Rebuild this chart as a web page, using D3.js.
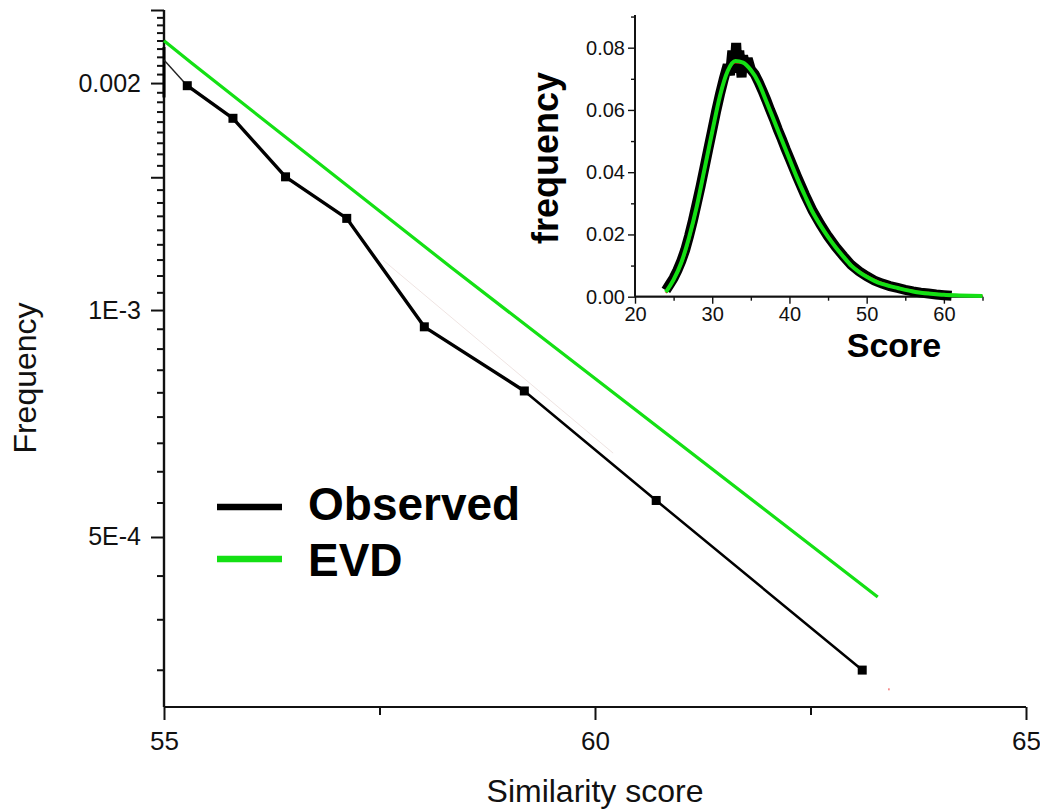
<!DOCTYPE html>
<html>
<head>
<meta charset="utf-8">
<script src="https://cdn.jsdelivr.net/npm/d3@7/dist/d3.min.js"></script>
<style>
  html, body { margin: 0; padding: 0; background: #fff; }
  svg { display: block; font-family: "Liberation Sans", Arial, sans-serif; }
</style>
</head>
<body>
<svg id="chart" width="1040" height="812"></svg>
<script>
// ---- Tail of the score distribution (log scale) ----
const obsScores = [55.27, 55.80, 56.41, 57.12, 58.02, 59.18, 60.71, 63.10];
const obsFreq   = [0.001984, 0.001796, 0.001502, 0.001323, 0.000950, 0.000781, 0.000559, 0.000333];
// unmarked lead-in of the observed curve at the left edge
const leadScores = [55.0, 55.27];
const leadFreq   = [0.002146, 0.001984];
const edgeScores = [55.0, 55.0];
const edgeFreq   = [0.002233, 0.001914];

const evdScores = [55.0, 55.32, 58.34, 63.28];
const evdFreq   = [0.002276, 0.002126, 0.001137, 0.0004164];

// faint helper line and stray mark
const guideScores = [57.54, 60.21];
const guideFreq   = [0.001165, 0.000646];
const strayScore = 63.41, strayFreq = 0.000314;

const xTicksMain = [55, 60, 65];
const xMinorMain = [57.5, 62.5];
const yMajorMain = [0.0005, 0.001, 0.0015, 0.002, 0.0025];
const yLabelMain = { 0.002: "0.002", 0.001: "1E-3", 0.0005: "5E-4" };

// ---- Inset: full score distribution ----
const histScores = [24, 24.5, 25, 25.5, 26, 26.5, 27, 27.5, 28, 28.5, 29, 29.5, 30, 30.5, 31, 31.5, 32,
  32.3, 32.6, 32.9, 33.1, 33.3, 33.5, 33.8, 34, 34.3, 34.6, 35, 35.5, 36, 36.5, 37, 37.5, 38, 38.5,
  39, 39.5, 40, 41, 42, 43, 44, 45, 46, 47, 48, 49, 50, 51, 52, 53, 54, 55, 56, 57, 58, 59, 60, 61];
const histFreq = [0.0020, 0.0040, 0.0060, 0.0085, 0.0115, 0.0150, 0.0195, 0.0245, 0.0300, 0.0355,
  0.0415, 0.0475, 0.0535, 0.0595, 0.0650, 0.0700, 0.0745, 0.0712, 0.0790, 0.0735, 0.0815, 0.0720,
  0.0790, 0.0705, 0.0775, 0.0730, 0.0765, 0.0730, 0.0715, 0.0690, 0.0662, 0.0632, 0.0600, 0.0570,
  0.0537, 0.0507, 0.0475, 0.0445, 0.0385, 0.0328, 0.0276, 0.0233, 0.0194, 0.0160, 0.0130, 0.0102,
  0.0082, 0.0066, 0.0052, 0.0042, 0.0034, 0.0028, 0.0022, 0.0017, 0.0013, 0.0010, 0.0007, 0.0005, 0.0003];

const fitScores = [24, 25, 26, 27, 28, 29, 30, 31, 32, 33, 34, 35, 36, 37, 38, 39, 40, 41, 42, 43, 44,
  45, 46, 47, 48, 49, 50, 51, 52, 53, 54, 55, 56, 57, 58, 59, 60, 62, 65];
const evdFit = [0.0015, 0.0055, 0.0110, 0.0190, 0.0290, 0.0410, 0.0530, 0.0645, 0.0725, 0.0757,
  0.0752, 0.0728, 0.0688, 0.0628, 0.0566, 0.0504, 0.0442, 0.0381, 0.0325, 0.0272, 0.0230, 0.0192,
  0.0158, 0.0128, 0.0100, 0.0080, 0.0064, 0.0051, 0.0041, 0.0034, 0.0028, 0.0022, 0.0017, 0.0013,
  0.0010, 0.0008, 0.0006, 0.0004, 0.0002];
const gumbelFit = [0.0012, 0.0050, 0.0102, 0.0180, 0.0280, 0.0400, 0.0522, 0.0638, 0.0720, 0.0752,
  0.0750, 0.0728, 0.0690, 0.0632, 0.0570, 0.0508, 0.0446, 0.0386, 0.0330, 0.0277, 0.0235, 0.0197,
  0.0163, 0.0132, 0.0104, 0.0084, 0.0068, 0.0055, 0.0045, 0.0037, 0.0030, 0.0025, 0.0020, 0.0016,
  0.0013, 0.0010, 0.0008, 0.0005, 0.0003];

const xTicksInset = [20, 30, 40, 50, 60];
const xMinorInset = [25, 35, 45, 55, 65];
const yTicksInset = [0, 0.02, 0.04, 0.06, 0.08];
const yMinorInset = [0.01, 0.03, 0.05, 0.07, 0.09];

const GREEN = "#14e014";
const svg = d3.select("#chart");

// ================= main panel =================
const x = d3.scaleLinear().domain([55, 65]).range([164, 1026]);
const y = d3.scaleLog().domain([0.0002975, 0.0025]).range([707, 10]);

// y axis minor ticks: eight between consecutive multiples of 0.0005
const yMinorMain = [];
for (let k = 0; k < yMajorMain.length; k++) {
  const hi = yMajorMain[k];
  for (let j = 1; j <= 8; j++) {
    const v = hi - j * 0.0005 / 9;
    if (v > y.domain()[0]) yMinorMain.push(v);
  }
}

const gx = svg.append("g").attr("transform", "translate(0,707)");
gx.call(d3.axisBottom(x).tickValues(xTicksMain).tickSize(13).tickPadding(12).tickFormat(d3.format("d")));
gx.append("g").call(d3.axisBottom(x).tickValues(xMinorMain).tickSize(8).tickFormat(""));
gx.selectAll(".domain").attr("d", `M${x(55)},0H${x(65)}`);

const gy = svg.append("g").attr("transform", "translate(164,0)");
gy.call(d3.axisLeft(y).tickValues(yMajorMain).tickSize(13).tickPadding(10)
  .tickFormat(d => yLabelMain[d] || ""));
gy.append("g").call(d3.axisLeft(y).tickValues(yMinorMain).tickSize(7).tickFormat(""));
gy.selectAll(".domain").attr("d", `M0,${y(0.0025)}V707`);

[gx, gy].forEach(g => {
  g.selectAll(".domain").attr("stroke", "#111").attr("stroke-width", 2.2);
  g.selectAll(".tick line").attr("stroke", "#111").attr("stroke-width", 2);
  g.selectAll(".tick text").attr("fill", "#111").style("font-size", "26px")
    .style("font-family", "'Liberation Sans', Arial, sans-serif");
});
gy.selectAll(".tick text").style("font-size", "25px");

svg.append("text").attr("x", 595).attr("y", 802).attr("text-anchor", "middle")
  .style("font-size", "32px").attr("fill", "#111").text("Similarity score");
svg.append("text").attr("transform", "translate(36,378) rotate(-90)").attr("text-anchor", "middle")
  .style("font-size", "32px").attr("fill", "#111").text("Frequency");

const lineMain = d3.line().x(d => x(d[0])).y(d => y(d[1]));
const zip = (a, b) => a.map((v, i) => [v, b[i]]);

svg.append("path").attr("d", lineMain(zip(guideScores, guideFreq)))
  .attr("fill", "none").attr("stroke", "#efe4e2").attr("stroke-width", 1);

svg.append("path").attr("d", lineMain(zip(evdScores, evdFreq)))
  .attr("fill", "none").attr("stroke", GREEN).attr("stroke-width", 3.2);

svg.append("path").attr("d", lineMain(zip(edgeScores, edgeFreq)))
  .attr("fill", "none").attr("stroke", "#000").attr("stroke-width", 3);
svg.append("path").attr("d", lineMain(zip(leadScores, leadFreq)))
  .attr("fill", "none").attr("stroke", "#222").attr("stroke-width", 1.4);

const obsPts = zip(obsScores, obsFreq);
svg.append("path").attr("d", lineMain(obsPts.slice(0, 6)))
  .attr("fill", "none").attr("stroke", "#000").attr("stroke-width", 3.4).attr("stroke-linejoin", "round");
svg.append("path").attr("d", lineMain(obsPts.slice(5)))
  .attr("fill", "none").attr("stroke", "#000").attr("stroke-width", 2.5).attr("stroke-linejoin", "round");
svg.append("g").selectAll("rect").data(obsPts).join("rect")
  .attr("x", d => x(d[0]) - 4.5).attr("y", d => y(d[1]) - 4.5)
  .attr("width", 9).attr("height", 9).attr("fill", "#000");

svg.append("line").attr("x1", x(strayScore)).attr("x2", x(strayScore))
  .attr("y1", y(strayFreq) - 1).attr("y2", y(strayFreq) + 1)
  .attr("stroke", "#f03030").attr("stroke-width", 1);

// legend
const legend = [{ name: "Observed", color: "#000", ty: 520, ly: 507 },
                { name: "EVD", color: GREEN, ty: 576, ly: 559 }];
const lg = svg.append("g");
legend.forEach(d => {
  lg.append("line").attr("x1", 217).attr("x2", 282).attr("y1", d.ly).attr("y2", d.ly)
    .attr("stroke", d.color).attr("stroke-width", 6.5);
  lg.append("text").attr("x", 308).attr("y", d.ty).attr("fill", "#000")
    .style("font-size", "46px").style("font-weight", "bold").text(d.name);
});

// ================= inset panel =================
const xi = d3.scaleLinear().domain([20, 65]).range([635, 982.5]);
const yi = d3.scaleLinear().domain([0, 0.0905]).range([296.7, 15]);

const gxi = svg.append("g").attr("transform", "translate(0,296.7)");
gxi.call(d3.axisBottom(xi).tickValues(xTicksInset).tickSize(7).tickPadding(3).tickFormat(d3.format("d")));
gxi.append("g").call(d3.axisBottom(xi).tickValues(xMinorInset).tickSize(4).tickFormat(""));
gxi.selectAll(".domain").attr("d", `M${xi(20)},0H${xi(65)}`);

const gyi = svg.append("g").attr("transform", "translate(635,0)");
gyi.call(d3.axisLeft(yi).tickValues(yTicksInset).tickSize(7).tickPadding(3).tickFormat(d3.format(".2f")));
gyi.append("g").call(d3.axisLeft(yi).tickValues(yMinorInset).tickSize(4).tickFormat(""));
gyi.selectAll(".domain").attr("d", `M0,${yi(0.0905)}V296.7`);

[gxi, gyi].forEach(g => {
  g.selectAll(".domain").attr("stroke", "#111").attr("stroke-width", 1.8);
  g.selectAll(".tick line").attr("stroke", "#111").attr("stroke-width", 1.4);
  g.selectAll(".tick text").attr("fill", "#111").style("font-size", "20px")
    .style("font-family", "'Liberation Sans', Arial, sans-serif");
});

svg.append("text").attr("x", 894).attr("y", 357).attr("text-anchor", "middle")
  .style("font-size", "34px").style("font-weight", "bold").attr("fill", "#000").text("Score");
svg.append("text").attr("transform", "translate(558,158) rotate(-90)").attr("text-anchor", "middle")
  .style("font-size", "36px").style("font-weight", "bold").attr("fill", "#000").text("frequency");

const lineInset = d3.line().x(d => xi(d[0])).y(d => yi(d[1])).curve(d3.curveMonotoneX);
const lineInsetRaw = d3.line().x(d => xi(d[0])).y(d => yi(d[1]));

svg.append("path").attr("d", lineInsetRaw(zip(histScores, histFreq)))
  .attr("fill", "none").attr("stroke", "#000").attr("stroke-width", 10).attr("stroke-linejoin", "miter");
svg.append("path").attr("d", lineInset(zip(fitScores, gumbelFit)))
  .attr("fill", "none").attr("stroke", "#e01010").attr("stroke-width", 1.6);
svg.append("path").attr("d", lineInset(zip(fitScores, evdFit)))
  .attr("fill", "none").attr("stroke", GREEN).attr("stroke-width", 4);
</script>
</body>
</html>
